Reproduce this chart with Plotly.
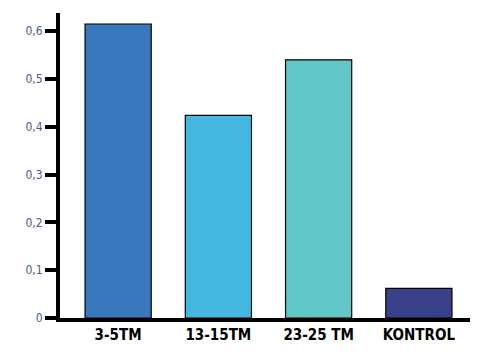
import plotly.graph_objects as go

categories = ["3-5TM", "13-15TM", "23-25 TM", "KONTROL"]
values = [0.615, 0.424, 0.54, 0.062]
colors = ["#3a78bd", "#44b8e0", "#60c6c6", "#39418a"]
ytick_vals = [0, 0.1, 0.2, 0.3, 0.4, 0.5, 0.6]
ytick_text = ["0", "0,1", "0,2", "0,3", "0,4", "0,5", "0,6"]

FONT = "DejaVu Sans Condensed, Liberation Sans Narrow, sans-serif"

fig = go.Figure(go.Bar(
    x=list(range(len(categories))), y=values,
    marker=dict(color=colors, line=dict(color="black", width=1.2)),
    width=0.66,
))
fig.update_layout(
    width=487, height=359,
    margin=dict(l=60, r=17, t=13, b=41),
    plot_bgcolor="white", paper_bgcolor="white",
    showlegend=False,
    font=dict(family=FONT),
)
fig.update_xaxes(
    range=[-0.58, 3.51], tickvals=list(range(len(categories))), ticktext=categories,
    showline=True, linecolor="black", linewidth=4, showgrid=False, zeroline=False,
    ticks="",
    tickfont=dict(size=15, color="black", family=FONT, weight="bold"),
)
fig.update_yaxes(
    range=[0, 0.638], tickvals=ytick_vals, ticktext=ytick_text,
    showline=True, linecolor="black", linewidth=4, showgrid=False, zeroline=False,
    ticks="outside", ticklen=11, tickwidth=4, tickcolor="black",
    tickfont=dict(size=12, color="#4a5f86", family=FONT),
)
fig.write_html("out.html")
